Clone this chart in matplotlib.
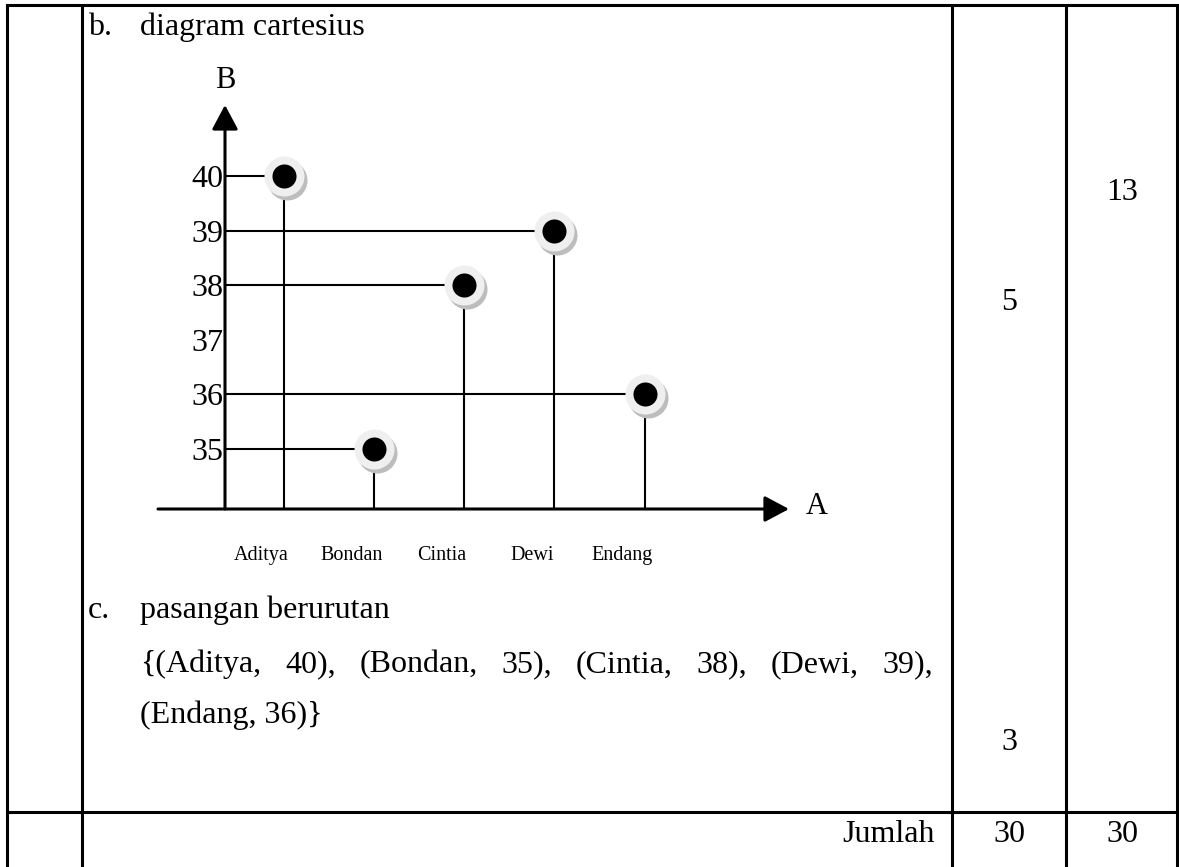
import matplotlib
matplotlib.use("Agg")
import matplotlib.pyplot as plt
from matplotlib.transforms import offset_copy

# data
names = ["Aditya", "Bondan", "Cintia", "Dewi", "Endang"]
scores = [40, 35, 38, 39, 36]
y_ticks = [35, 36, 37, 38, 39, 40]
col_scores = {"13": 193, "5": 303, "3": 742}   # label -> row y (px)
total_1 = 30
total_2 = 30

plt.rcParams["font.family"] = ["Liberation Serif", "DejaVu Serif"]

W, H = 1179, 867
fig = plt.figure(figsize=(W / 100, H / 100), dpi=100)

# table layer, drawn in pixel coordinates
tab = fig.add_axes([0, 0, 1, 1])
tab.set_xlim(0, W)
tab.set_ylim(H, 0)
tab.axis("off")

lw_tab = 2.2
for x in [7, 82, 952, 1066, 1177]:
    tab.plot([x, x], [5, H], color="black", lw=lw_tab, solid_capstyle="butt")
tab.plot([7, 1177], [5, 5], color="black", lw=lw_tab)
tab.plot([7, 1177], [812, 812], color="black", lw=lw_tab)

fs = 23
tab.text(88, 35, "b.", fontsize=fs, va="baseline")
tab.text(140, 35, "diagram cartesius", fontsize=fs, va="baseline")
tab.text(88, 618, "c.", fontsize=fs, va="baseline")
tab.text(140, 618, "pasangan berurutan", fontsize=fs, va="baseline")

# ordered pairs, first line justified
tokens = []
for n, v in zip(names, scores):
    tokens += ["(" + n + ",", str(v) + "),"]
tokens[0] = "{" + tokens[0]
tokens[-1] = tokens[-1].rstrip(",") + "}"
line1, line2 = tokens[:8], tokens[8:]

renderer = fig.canvas.get_renderer()
objs = [tab.text(0, 672, t, fontsize=fs, va="baseline") for t in line1]
widths = [o.get_window_extent(renderer).width for o in objs]
x0, x1 = 140, 933
gap = (x1 - x0 - sum(widths)) / (len(objs) - 1)
x = x0
for o, w in zip(objs, widths):
    o.set_x(x)
    x += w + gap
tab.text(140, 723, " ".join(line2), fontsize=fs, va="baseline")

for lab, yy in col_scores.items():
    xc = 1122 if lab == "13" else 1009
    tab.text(xc, yy, lab, fontsize=fs, ha="center", va="center")
tab.text(935, 842, "Jumlah", fontsize=fs, ha="right", va="baseline")
tab.text(1009, 842, str(total_1), fontsize=fs, ha="center", va="baseline")
tab.text(1122, 842, str(total_2), fontsize=fs, ha="center", va="baseline")

# chart layer: left edge = B axis, bottom edge = A axis
l, r, t, b = 225, 789, 105, 509
ax = fig.add_axes([l / W, 1 - b / H, (r - l) / W, (b - t) / H])
ax.patch.set_alpha(0)
ax.set_xlim(-0.65, 5.6)
ax.set_ylim(33.9, 41.3)
for s in ax.spines.values():
    s.set_visible(False)
ax.set_xticks([])
ax.set_yticks(y_ticks)
ax.set_yticklabels([str(v) for v in y_ticks])
ax.tick_params(axis="y", length=0, pad=1, labelsize=fs)

arrow = dict(arrowstyle="-|>,head_length=0.75,head_width=0.4", color="black",
             lw=2.2, mutation_scale=20, shrinkA=0, shrinkB=0)
ax.annotate("", xy=(1, 0), xytext=(-67 / (r - l), 0), xycoords="axes fraction",
            arrowprops=arrow, annotation_clip=False)
ax.annotate("", xy=(0, 1), xytext=(0, 0), xycoords="axes fraction",
            arrowprops=arrow, annotation_clip=False)
ax.text(0.0, 1.06, "B", transform=ax.transAxes, fontsize=22, ha="center", va="center")
ax.text(1.05, 0.005, "A", transform=ax.transAxes, fontsize=22, ha="center", va="center")

xs = list(range(len(names)))
for i, v in zip(xs, scores):
    ax.plot([-0.65, i], [v, v], color="black", lw=1.5, zorder=2)
    ax.plot([i, i], [33.9, v], color="black", lw=1.5, zorder=2)

shadow = offset_copy(ax.transData, fig=fig, x=3, y=-4, units="dots")
ax.scatter(xs, scores, s=830, color="#bdbdbd", transform=shadow, zorder=3,
           linewidths=0)
ax.scatter(xs, scores, s=830, color="#efefef", zorder=4, linewidths=0)
ax.scatter(xs, scores, s=300, color="black", zorder=5, linewidths=0)

for i, n in zip(xs, names):
    ax.text(i - 0.25, 33.05, n, fontsize=14.5, ha="center", va="center", clip_on=False)

fig.savefig("out.png", dpi=100)
